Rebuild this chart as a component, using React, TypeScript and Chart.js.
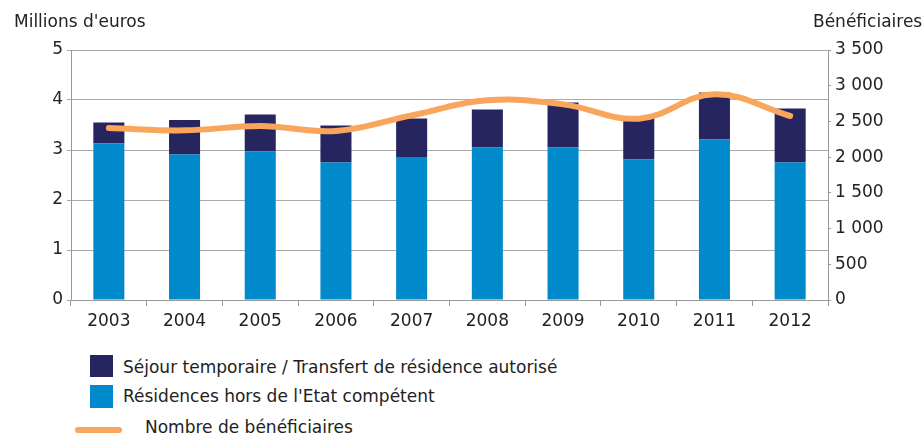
import React, { useEffect, useRef } from "react";
import { Chart, registerables } from "chart.js";

Chart.register(...registerables);

const years = ["2003", "2004", "2005", "2006", "2007", "2008", "2009", "2010", "2011", "2012"];
const residencesHorsEtat = [3.13, 2.91, 2.97, 2.75, 2.86, 3.05, 3.05, 2.81, 3.21, 2.75];
const sejourTemporaire = [0.42, 0.69, 0.74, 0.74, 0.77, 0.76, 0.9, 0.85, 0.94, 1.08];
const beneficiaires = [2408, 2375, 2436, 2366, 2585, 2795, 2739, 2539, 2879, 2576];
const leftTicks = [0, 1, 2, 3, 4, 5];
const rightTicks = [0, 500, 1000, 1500, 2000, 2500, 3000, 3500];

const FONT = "'DejaVu Sans', sans-serif";
const TEXT = "#222222";
const NAVY = "#27255F";
const BLUE = "#0089CB";
const ORANGE = "#F9A65C";

const fmtRight = (v: number) => {
  const s = String(Math.round(v));
  return s.replace(/\B(?=(\d{3})+(?!\d))/g, " ");
};

export default function App() {
  const ref = useRef<HTMLCanvasElement | null>(null);

  useEffect(() => {
    document.body.style.margin = "0";
    const canvas = ref.current;
    if (!canvas) return;
    const chart = new Chart(canvas, {
      type: "bar",
      data: {
        labels: years,
        datasets: [
          {
            type: "line",
            label: "Nombre de bénéficiaires",
            data: beneficiaires,
            yAxisID: "y1",
            borderColor: ORANGE,
            backgroundColor: ORANGE,
            borderWidth: 6,
            tension: 0.4,
            pointRadius: 0,
            borderCapStyle: "round",
            borderJoinStyle: "round",
            order: 0,
          } as any,
          {
            type: "bar",
            label: "Résidences hors de l'Etat compétent",
            data: residencesHorsEtat,
            backgroundColor: BLUE,
            yAxisID: "y",
            stack: "s",
            order: 1,
            categoryPercentage: 1,
            barPercentage: 0.41,
          },
          {
            type: "bar",
            label: "Séjour temporaire / Transfert de résidence autorisé",
            data: sejourTemporaire,
            backgroundColor: NAVY,
            yAxisID: "y",
            stack: "s",
            order: 1,
            categoryPercentage: 1,
            barPercentage: 0.41,
          },
        ],
      },
      options: {
        animation: false,
        responsive: true,
        maintainAspectRatio: false,
        layout: { padding: { top: 50, left: 0, right: 0, bottom: 0 } },
        plugins: {
          legend: { display: false },
          tooltip: { enabled: false },
          title: { display: false },
        },
        scales: {
          x: {
            stacked: true,
            offset: true,
            grid: {
              drawOnChartArea: false,
              drawTicks: true,
              tickLength: 6,
              offset: true,
              color: "#999999",
            },
            border: { display: true, color: "#999999" },
            ticks: {
              color: TEXT,
              font: { family: FONT, size: 17 },
              padding: 5,
              maxRotation: 0,
            },
            afterFit: (s: any) => {
              s.height = 45;
            },
          },
          y: {
            position: "left",
            stacked: true,
            min: 0,
            max: 5,
            afterBuildTicks: (s: any) => {
              s.ticks = leftTicks.map((v) => ({ value: v }));
            },
            grid: {
              color: "#AAAAAA",
              lineWidth: 1,
              drawTicks: true,
              tickLength: 4,
            },
            border: { display: true, color: "#999999" },
            ticks: {
              color: TEXT,
              font: { family: FONT, size: 17 },
              padding: 4,
            },
            afterFit: (s: any) => {
              s.width = 71;
            },
          },
          y1: {
            position: "right",
            min: 0,
            max: 3500,
            afterBuildTicks: (s: any) => {
              s.ticks = rightTicks.map((v) => ({ value: v }));
            },
            grid: {
              drawOnChartArea: false,
              drawTicks: true,
              tickLength: 3,
              color: "#999999",
            },
            border: { display: true, color: "#999999" },
            ticks: {
              color: TEXT,
              font: { family: FONT, size: 17 },
              padding: 4,
              callback: (v: any) => fmtRight(Number(v)),
            },
            afterFit: (s: any) => {
              s.width = 96;
            },
          },
        },
      },
    });
    return () => chart.destroy();
  }, []);

  const textStyle: React.CSSProperties = {
    position: "absolute",
    fontFamily: FONT,
    fontSize: 17,
    lineHeight: "17px",
    color: TEXT,
    whiteSpace: "nowrap",
  };

  return (
    <div style={{ position: "relative", width: 924, height: 438, background: "#fff" }}>
      <div style={{ position: "absolute", left: 0, top: 0, width: 924, height: 345 }}>
        <canvas ref={ref} />
      </div>
      <div style={{ ...textStyle, left: 14, top: 13 }}>Millions d'euros</div>
      <div style={{ ...textStyle, left: 813, top: 13 }}>Bénéficiaires</div>

      <div style={{ position: "absolute", left: 90, top: 355, width: 23, height: 22, background: NAVY }} />
      <div style={{ ...textStyle, left: 123, top: 359 }}>Séjour temporaire / Transfert de résidence autorisé</div>

      <div style={{ position: "absolute", left: 90, top: 385, width: 23, height: 23, background: BLUE }} />
      <div style={{ ...textStyle, left: 123, top: 388 }}>Résidences hors de l'Etat compétent</div>

      <div style={{ position: "absolute", left: 75, top: 427, width: 47, height: 6, borderRadius: 3, background: ORANGE }} />
      <div style={{ ...textStyle, left: 145, top: 419 }}>Nombre de bénéficiaires</div>
    </div>
  );
}
